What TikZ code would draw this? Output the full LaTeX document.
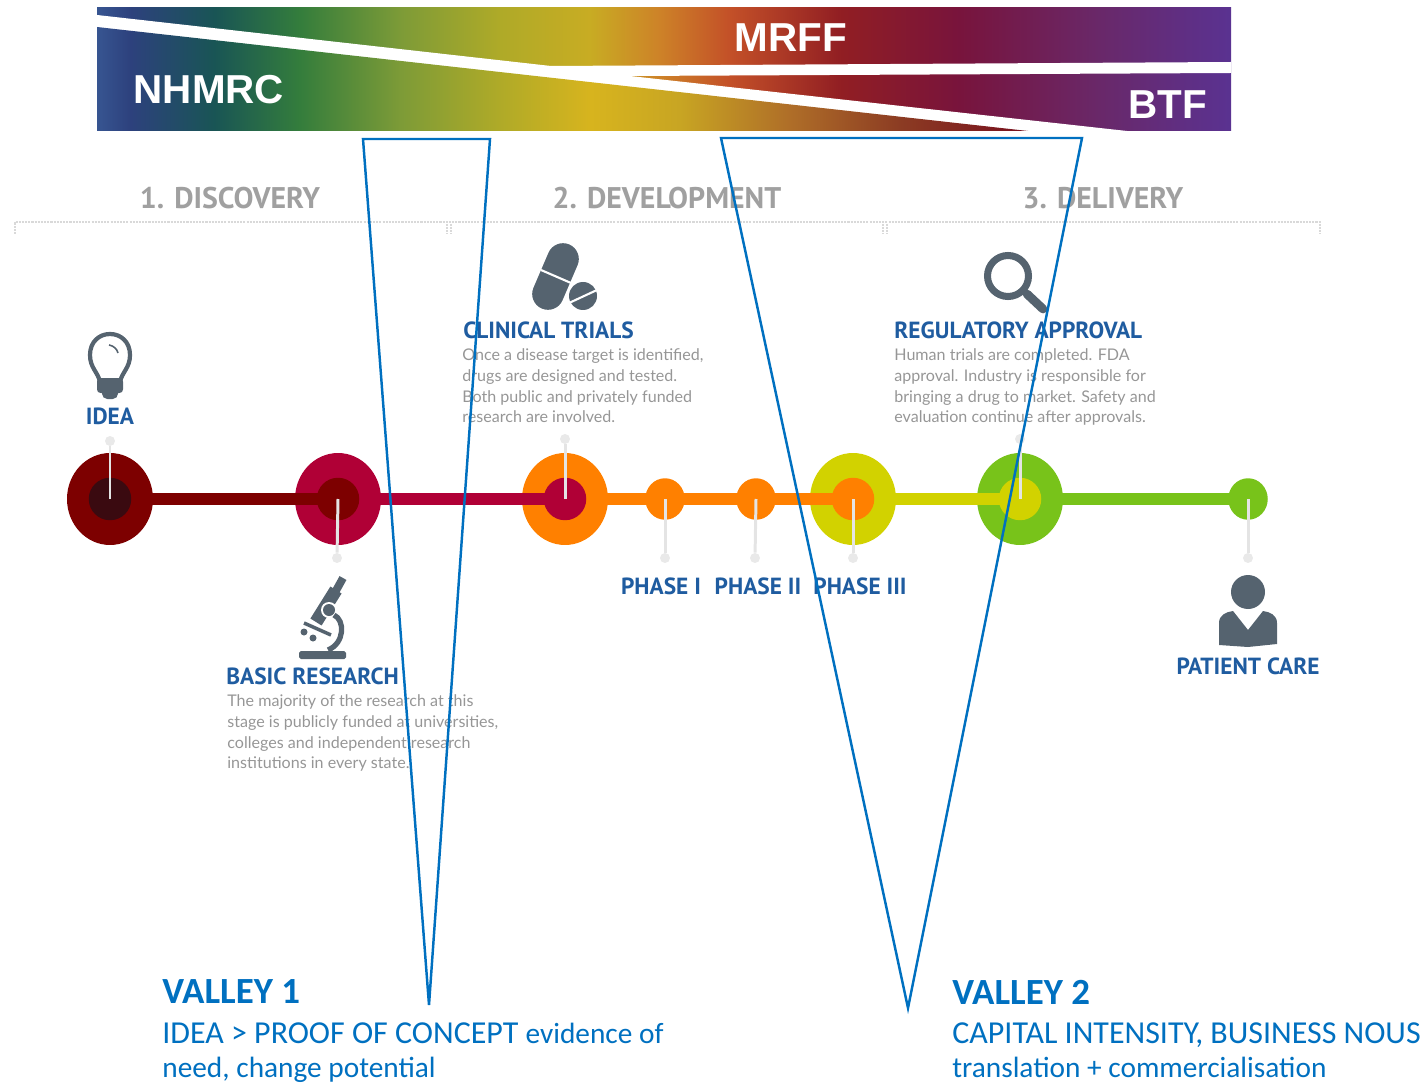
\documentclass[tikz,border=0pt]{standalone}
\usepackage{fontspec}
\setmainfont{Carlito}
\newfontfamily\barfont{Liberation Sans}
\newfontfamily\headfont{PT Sans}
\newfontfamily\bodyfont{Lato}
\usetikzlibrary{shapes, arrows, positioning}
\definecolor{valleyblue}{RGB}{0, 112, 192}
\definecolor{headblue}{RGB}{31, 92, 160}
\definecolor{iconslate}{RGB}{85, 99, 111}
\definecolor{sectiongrey}{RGB}{160, 160, 160}
\definecolor{bodygrey}{RGB}{150, 150, 150}
\definecolor{stemgrey}{RGB}{228, 228, 228}
\definecolor{maroonrim}{RGB}{125, 0, 0}
\definecolor{darkhub}{RGB}{58, 10, 16}
\definecolor{crimsonrim}{RGB}{176, 0, 54}
\definecolor{orangerim}{RGB}{255, 128, 0}
\definecolor{limerim}{RGB}{210, 210, 0}
\definecolor{greenrim}{RGB}{120, 195, 26}
\pgfdeclarehorizontalshading{barshade}{100bp}{
  rgb(0bp)=(0.216,0.333,0.569);
  rgb(25bp)=(0.216,0.333,0.569);
  rgb(26.5bp)=(0.176,0.255,0.490);
  rgb(30.2bp)=(0.098,0.333,0.333);
  rgb(33.95bp)=(0.204,0.490,0.235);
  rgb(38.4bp)=(0.490,0.608,0.216);
  rgb(42.8bp)=(0.686,0.667,0.157);
  rgb(46.7bp)=(0.784,0.675,0.137);
  rgb(49.8bp)=(0.804,0.510,0.157);
  rgb(52.9bp)=(0.765,0.314,0.157);
  rgb(57.8bp)=(0.569,0.118,0.137);
  rgb(63bp)=(0.471,0.078,0.235);
  rgb(69.2bp)=(0.412,0.157,0.412);
  rgb(75bp)=(0.353,0.196,0.569);
  rgb(100bp)=(0.353,0.196,0.569)}
\pgfdeclarehorizontalshading{wedgeshade}{100bp}{
  rgb(0bp)=(0.216,0.333,0.569);
  rgb(25bp)=(0.216,0.333,0.569);
  rgb(26.8bp)=(0.176,0.255,0.490);
  rgb(31.3bp)=(0.098,0.333,0.333);
  rgb(35.9bp)=(0.204,0.490,0.235);
  rgb(41.3bp)=(0.490,0.608,0.216);
  rgb(46.6bp)=(0.686,0.667,0.157);
  rgb(51.5bp)=(0.843,0.706,0.118);
  rgb(56.3bp)=(0.784,0.647,0.137);
  rgb(62.2bp)=(0.686,0.431,0.157);
  rgb(68.1bp)=(0.549,0.235,0.137);
  rgb(75bp)=(0.471,0.059,0.118);
  rgb(100bp)=(0.471,0.059,0.118)}
\newcommand{\capsize}{\fontsize{18.2}{19.8}\selectfont}
\newcommand{\lowsize}{\fontsize{16.7}{19.8}\selectfont}

\begin{document}
\begin{tikzpicture}[
        x=0.02cm, y=-0.02cm,
        rim/.style={ellipse, minimum width=1.72cm, minimum height=1.84cm, inner sep=0pt},
        hub/.style={circle, minimum size=0.85cm, inner sep=0pt},
        stop/.style={ellipse, minimum width=0.79cm, minimum height=0.83cm, inner sep=0pt},
        tipdot/.style={circle, fill=stemgrey!80!white, minimum size=0.2cm, inner sep=0pt},
        stem/.style={draw=stemgrey, line width=1.7pt},
        track/.style={line width=6.8pt},
        barlabel/.style={text=white, font=\barfont\fontsize{23}{26}\selectfont\bfseries, inner sep=0pt},
        section/.style={text=sectiongrey, font=\headfont\fontsize{17}{20}\selectfont\bfseries, inner sep=0pt},
        title/.style={text=headblue, font=\headfont\fontsize{13.3}{15}\selectfont\bfseries, inner sep=0pt},
        blurb/.style={text=bodygrey, font=\bodyfont\fontsize{9.15}{11.9}\selectfont, align=left, anchor=north west, inner sep=0pt},
        valley/.style={text=valleyblue, font=\fontsize{21}{24}\selectfont\bfseries, anchor=west, inner sep=0pt},
        valleytext/.style={text=valleyblue, font=\capsize, align=left, anchor=north west, inner sep=0pt},
        funnel/.style={draw=valleyblue, line width=1.4pt, line join=miter},
        ruler/.style={draw=stemgrey!95!black, line width=0.9pt, dash pattern=on 1.2pt off 0.6pt}
    ]
        \useasboundingbox (0, 0) rectangle (1426, 1084);

        \shade[shading=barshade] (97, 8) rectangle (1231, 131);
        \fill[white] (97, 15) -- (551, 66) -- (1231, 62) -- (1231, 73) -- (630, 76) -- (1127, 131) -- (97, 131) -- cycle;
        \shade[shading=wedgeshade] (97, 27) -- (1028, 131) -- (97, 131) -- cycle;

        \node[barlabel] (nhmrc) at (209, 90) {NHMRC};
        \node[barlabel] (mrff) at (791, 38) {MRFF};
        \node[barlabel] (btf) at (1168, 105) {BTF};

        \node[section] (discovery) at (230, 198) {1. DISCOVERY};
        \node[section] (development) at (667, 198) {2. DEVELOPMENT};
        \node[section] (delivery) at (1103, 198) {3. DELIVERY};

        \draw[ruler] (15, 234) -- (15, 222) -- (1320, 222) -- (1320, 234);
        \draw[ruler] (447, 224) -- (447, 234);
        \draw[ruler] (451, 224) -- (451, 234);
        \draw[ruler] (883, 224) -- (883, 234);
        \draw[ruler] (887, 224) -- (887, 234);

        \node[rim, fill=maroonrim] (idea) at (110, 499) {};
        \node[rim, fill=crimsonrim] (basic) at (338, 499) {};
        \node[rim, fill=orangerim] (clinical) at (565, 499) {};
        \node[stop, fill=orangerim] (phase1) at (665, 499) {};
        \node[stop, fill=orangerim] (phase2) at (756, 499) {};
        \node[rim, fill=limerim] (phase3) at (853, 499) {};
        \node[rim, fill=greenrim] (approval) at (1020, 499) {};
        \node[stop, fill=greenrim] (care) at (1248, 499) {};

        \draw[track, maroonrim] (idea.center) -- (basic.center);
        \draw[track, crimsonrim] (basic.center) -- (clinical.center);
        \draw[track, orangerim] (clinical.center) -- (phase3.center);
        \draw[track, limerim] (phase3.center) -- (approval.center);
        \draw[track, greenrim] (approval.center) -- (care.center);

        \node[hub, fill=darkhub] (ideahub) at (110, 499) {};
        \node[hub, fill=maroonrim] (basichub) at (338, 499) {};
        \node[hub, fill=crimsonrim] (clinicalhub) at (565, 499) {};
        \node[hub, fill=orangerim] (phase3hub) at (853, 499) {};
        \node[hub, fill=limerim] (approvalhub) at (1020, 499) {};

        \node[tipdot] (ideatip) at (110, 441) {};
        \node[tipdot] (basictip) at (337, 558) {};
        \node[tipdot] (clinicaltip) at (565, 439) {};
        \node[tipdot] (phase1tip) at (665, 558) {};
        \node[tipdot] (phase2tip) at (755, 558) {};
        \node[tipdot] (phase3tip) at (853, 558) {};
        \node[tipdot] (approvaltip) at (1020, 439) {};
        \node[tipdot] (caretip) at (1248, 558) {};

        \draw[stem] (ideahub.center) -- (ideatip);
        \draw[stem] (basichub.center) -- (basictip);
        \draw[stem] (clinicalhub.center) -- (clinicaltip);
        \draw[stem] (phase1.center) -- (phase1tip);
        \draw[stem] (phase2.center) -- (phase2tip);
        \draw[stem] (phase3hub.center) -- (phase3tip);
        \draw[stem] (approvalhub.center) -- (approvaltip);
        \draw[stem] (care.center) -- (caretip);

        \node[title] (ideatitle) at (110, 416) {IDEA};
        \node[title, anchor=west] (clinicaltitle) at (463, 330) {CLINICAL TRIALS};
        \node[title, anchor=west] (approvaltitle) at (894, 330) {REGULATORY APPROVAL};
        \node[title, anchor=west] (basictitle) at (226, 676) {BASIC RESEARCH};
        \node[title] (phase1title) at (661, 586) {PHASE I};
        \node[title] (phase2title) at (758, 586) {PHASE II};
        \node[title] (phase3title) at (860, 586) {PHASE III};
        \node[title] (caretitle) at (1248, 666) {PATIENT CARE};

        \node[blurb] (clinicalblurb) at (462, 348) {Once a disease target is identified,\\drugs are designed and tested.\\Both public and privately funded\\research are involved.};
        \node[blurb] (approvalblurb) at (894, 348) {Human trials are completed. FDA\\approval. Industry is responsible for\\bringing a drug to market. Safety and\\evaluation continue after approvals.};
        \node[blurb] (basicblurb) at (227, 694) {The majority of the research at this\\stage is publicly funded at universities,\\colleges and independent research\\institutions in every state.};

        \draw[iconslate, line width=2.4pt] (100, 382) .. controls (98, 372) and (90, 368) .. (90, 355) .. controls (90, 342) and (99, 334) .. (110, 334) .. controls (121, 334) and (130, 342) .. (130, 355) .. controls (130, 368) and (122, 372) .. (120, 382);
        \fill[iconslate, rounded corners=2pt] (97, 378) rectangle (123, 393);
        \fill[iconslate, rounded corners=3pt] (102, 388) rectangle (118, 399);
        \draw[iconslate, line width=0.9pt] (109, 345) .. controls (114, 346) and (117, 349) .. (118, 353);

        \draw[iconslate, line width=18pt, line cap=round] (563, 259) -- (548, 294);
        \draw[white, line width=1.2pt] (541, 270) -- (571, 283);
        \fill[iconslate] (583, 296) circle (14);
        \draw[white, line width=1.2pt] (569, 303) -- (597, 290);

        \draw[iconslate, line width=4pt] (1008, 276) circle (20.5);
        \draw[iconslate, line width=5pt, line cap=round] (1027, 294) -- (1043, 309);

        \fill[iconslate] (1248, 592) circle (17);
        \fill[iconslate] (1219, 645) -- (1219, 623) .. controls (1219, 615) and (1226, 612) .. (1233, 611) -- (1248, 630) -- (1263, 611) .. controls (1270, 612) and (1277, 615) .. (1277, 623) -- (1277, 644) -- (1248, 647) -- cycle;

        \draw[iconslate, line width=7.5pt] (336, 590) -- (316, 622);
        \draw[iconslate, line width=4.5pt] (343, 578) -- (333, 596);
        \draw[iconslate, line width=2pt] (304, 623) -- (331, 635);
        \fill[iconslate] (304, 632) circle (3.5);
        \fill[iconslate] (313, 638) circle (3.5);
        \fill[white] (329, 610) circle (8);
        \fill[iconslate] (329, 610) circle (6);
        \draw[iconslate, line width=3pt] (334, 615) .. controls (345, 620) and (345, 643) .. (328, 650);
        \fill[iconslate, rounded corners=1pt] (299, 651) rectangle (346, 659);

        \node[valley] (valley1) at (162, 992) {VALLEY 1};
        \node[valleytext] (valley1text) at (162, 1022) {IDEA > PROOF OF CONCEPT {\lowsize evidence of}\\{\lowsize need, change potential}};
        \node[valley] (valley2) at (952, 992) {VALLEY 2};
        \node[valleytext] (valley2text) at (952, 1022) {CAPITAL INTENSITY, BUSINESS NOUS\\{\lowsize translation + commercialisation}};

        \draw[funnel] (363, 139) -- (490, 139) -- (429, 1005) -- cycle;
        \draw[funnel] (721, 138) -- (1082, 138) -- (908, 1008) -- cycle;
    \end{tikzpicture}
\end{document}
